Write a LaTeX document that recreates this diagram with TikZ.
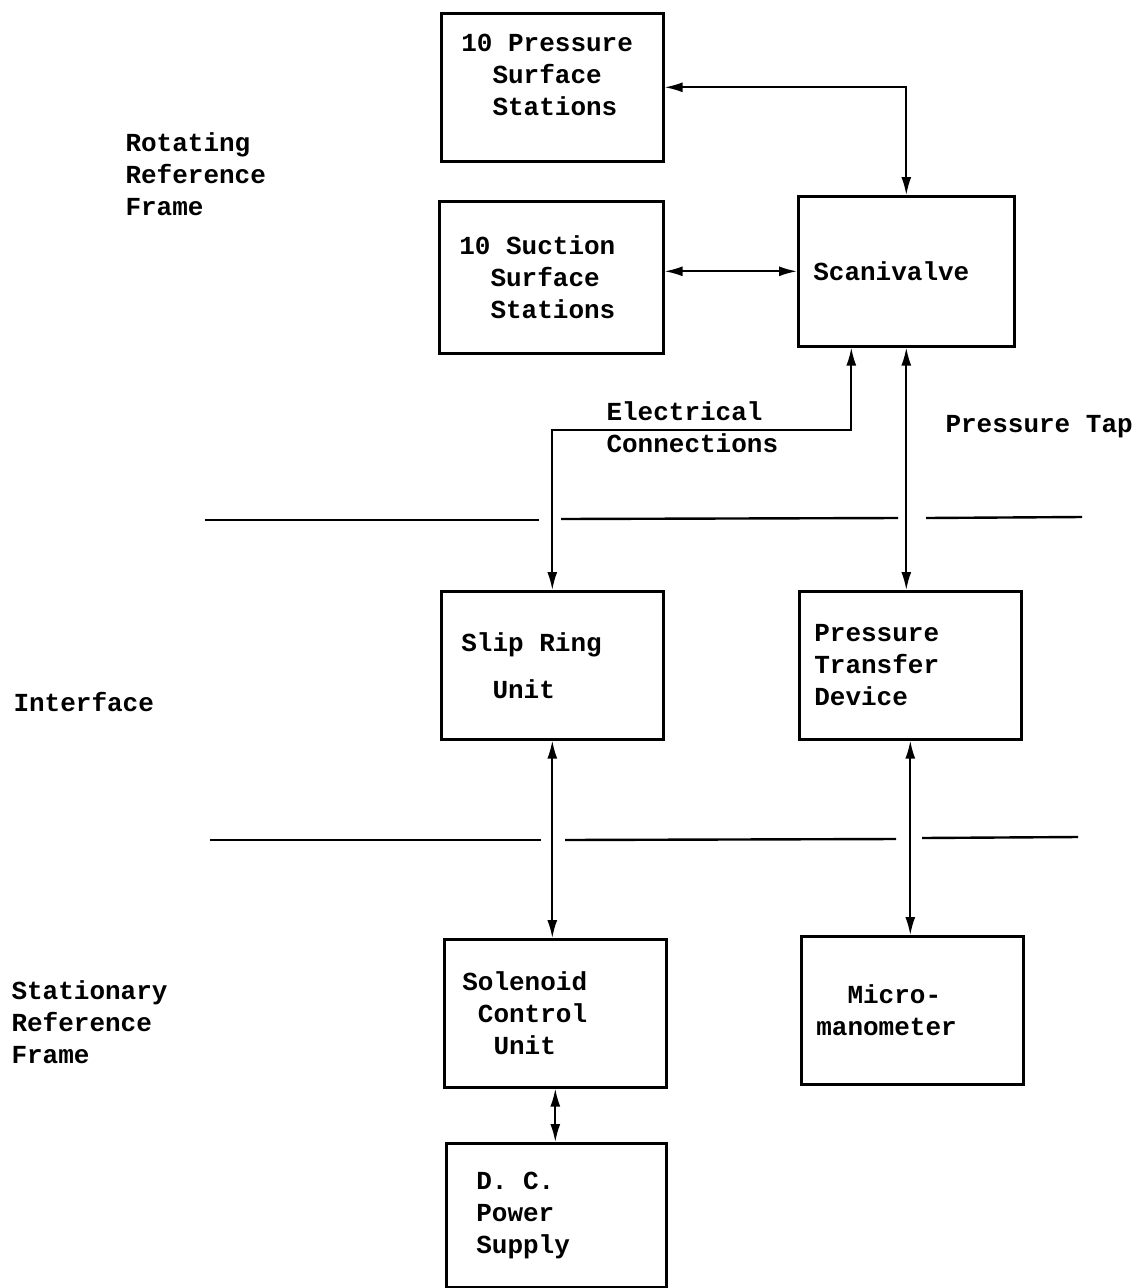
\documentclass[tikz,border=0pt]{standalone}
\usepackage{fontspec}
\setmonofont{Liberation Mono}
\usetikzlibrary{arrows.meta, positioning}
\newcommand{\typefont}{\ttfamily\bfseries\fontsize{26}{32}\selectfont\frenchspacing}

\begin{document}
\begin{tikzpicture}[
    x=1pt, y=-1pt,
    box/.style={draw=black, line width=2.6pt, minimum height=148pt, text width=182pt, inner xsep=20pt, align=flush left, anchor=north west, font=\typefont},
    link/.style={{Latex[length=18pt,width=10pt]}-{Latex[length=18pt,width=10pt]}, line width=1.9pt},
    divider/.style={line width=2.4pt},
    side/.style={anchor=west, align=flush left, font=\typefont}
]
    \useasboundingbox (0,0) rectangle (1145,1288);

    % Rotating frame blocks
    \node[box] (pss) at (440,12) {10 Pressure\\\phantom{10}Surface\\\phantom{10}Stations\\[-8pt]\mbox{}};
    \node[box, text width=184pt, minimum height=152pt] (sss) at (438,200) {10 Suction\\\phantom{10}Surface\\\phantom{10}Stations};
    \node[box, minimum height=150pt, text width=186pt, inner xsep=15pt] (scan) at (797,195) {Scanivalve};

    % Interface blocks
    \node[box] (slip) at (440,590) {Slip Ring\\[15pt]\phantom{Sl}Unit};
    \node[box, text width=192pt, inner xsep=15pt] (ptd) at (798,590) {Pressure\\Transfer\\Device};

    % Stationary frame blocks
    \node[box, text width=186pt, inner xsep=18pt] (sol) at (443,938) {Solenoid\\\phantom{S}Control\\\phantom{So}Unit};
    \node[box, text width=192pt, inner xsep=15pt] (micro) at (800,935) {\phantom{ma}Micro-\\manometer};
    \node[box, text width=160pt, inner xsep=30pt, minimum height=144pt] (dc) at (445,1142) {D. C.\\Power\\Supply};

    % Frame labels
    \node[side] (rotating) at (122,174) {Rotating\\Reference\\Frame};
    \node[side] (interface) at (10,702) {Interface};
    \node[side] (stationary) at (8,1022) {Stationary\\Reference\\Frame};

    % Separators between the frames
    \draw[divider] (205,520) -- (539,520);
    \draw[divider] (561,519) -- (898,518);
    \draw[divider] (926,518) -- (1082,517);
    \draw[divider] (210,840) -- (541,840);
    \draw[divider] (565,840) -- (896,839);
    \draw[divider] (922,838) -- (1078,837);

    % Connectors
    \draw[link] (pss.east) -| (scan.north);
    \draw[link] (sss.east |- scan.west) -- (scan.west);
    \draw[link] ([xshift=-55pt]scan.south) -- ++(0,82) coordinate (elbow) -| (slip.north);
    \draw[link] (scan.south) -- (scan.south |- ptd.north);
    \draw[link] (slip.south) -- (slip.south |- sol.north);
    \draw[link] (ptd.south) -- (ptd.south |- micro.north);
    \draw[link] (sol.south) -- (sol.south |- dc.north);

    % Connector labels
    \node[side] (electrical) at (603,427) {Electrical\\Connections};
    \node[side] (tap) at (942,427) {Pressure Tap};

\end{tikzpicture}
\end{document}
